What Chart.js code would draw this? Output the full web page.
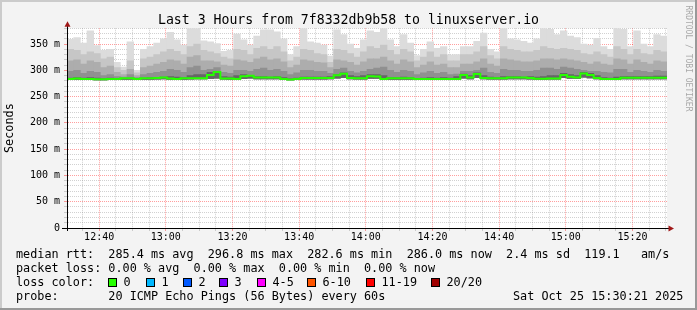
<!DOCTYPE html>
<html><head><meta charset="utf-8">
<script src="https://cdn.jsdelivr.net/npm/chart.js@4.4.0/dist/chart.umd.min.js"></script>
<style>html,body{margin:0;padding:0;background:#f3f3f3;}canvas{display:block;}</style>
</head><body>
<canvas id="c" width="697" height="310"></canvas>
<script>
// time axis: minutes after 12:00 (12:30:21 .. 15:30:21), one smoke column per 2 minutes
const startMin = 30.35;
const endMin = 210.35;
const stepMin = 2;

const medianRtt = [
 283.5,284.5,283.5,283.5,283,283,283.5,283.5,285,285,
 283.5,285,285,285.5,286.5,284.5,283.5,285,285,285,
 285,291,296.8,284.5,284.5,283.5,288.5,289.5,286.5,286.5,
 286.5,286.5,283.5,282.6,283.5,285.5,285.5,285.5,285.5,285.5,
 290.5,293.5,285.5,285,285,288.5,288,283.5,285,285,
 285,285,283.5,283.5,283.5,283.5,283.5,283.5,283.5,291,
 286.5,293,285.5,285,285,285,286.5,286.5,286.5,285.5,
 284,284,284.5,284.5,291,287.5,286.5,294,291,285.5,
 283.5,283.5,283.5,286,286,286,286,286,286,286];

const minRtt = [
 282,282.5,282,282,281.5,281.5,282,282,282.5,282.5,
 282,282.5,282.5,283,283.5,282.5,282,282.5,283,283.5,
 283.5,284,285,283,282.5,282,284,285,283.5,283.5,
 283.5,283.5,282,281.5,282,283,283,283,283,283.5,
 285,286,283.5,283,283,284.5,284.5,282,282.5,282.5,
 282.5,282.5,282,282,282,282,282,282,282.5,285,
 283.5,286,283.5,283,283,283,283.5,283.5,283.5,283,
 282.5,282.5,283,283,286,284.5,284,287,285.5,283.5,
 282,282,282,283.5,283.5,283.5,283.5,283.5,283.5,283.5];

const smokeMax = [
 359,362,352,375,347,338,340,315,306,354,
 300,340,345,352,360,372,358,348,380,380,
 356,354,351,336,338,369,358,348,365,377,
 377,373,360,330,345,380,354,352,348,327,
 377,368,350,342,358,375,372,380,358,345,
 368,352,328,340,354,342,345,329,330,345,
 345,355,371,340,335,380,360,358,355,352,
 360,380,378,368,375,365,362,350,348,361,
 345,340,380,378,345,375,350,345,368,365];

const smokeHigh = [
 340,338,330,335,332,322,325,305,300,318,
 295,322,325,330,335,340,336,330,345,350,
 338,335,332,325,322,340,338,330,342,345,
 340,345,335,318,325,340,338,332,330,315,
 340,338,332,325,335,345,342,348,338,330,
 340,335,318,325,335,325,330,318,318,330,
 330,335,345,328,322,345,340,338,335,335,
 338,345,342,340,342,340,338,332,330,335,
 330,325,345,340,330,340,332,330,338,335];

const smokeMid = [
 318,320,312,318,315,305,308,296,292,302,
 290,305,308,312,315,320,318,312,325,328,
 318,318,316,310,308,320,318,315,322,325,
 320,322,316,305,310,320,318,315,314,305,
 320,318,315,310,316,322,322,325,318,312,
 320,316,305,310,316,310,312,305,305,312,
 312,316,322,312,308,322,320,318,316,316,
 318,322,322,320,322,320,318,315,312,316,
 312,310,322,320,312,320,315,312,318,316];

const smokeLow = [
 298,300,294,298,296,290,292,288,287,292,
 286,292,294,296,298,302,300,296,305,308,
 300,302,305,296,294,300,300,298,302,304,
 300,302,298,292,295,300,300,298,298,294,
 302,304,298,295,298,302,304,306,300,296,
 300,298,292,295,298,294,296,292,293,298,
 298,300,304,296,294,302,300,300,298,298,
 300,304,304,302,306,304,302,300,298,298,
 296,295,302,302,296,300,298,296,300,298];

const smokeCore = [
 285,286,285,286,285,284,285,284,284,285,
 284,285,286,286,287,288,287,286,290,292,
 292,296,298,288,287,290,292,290,288,288,
 287,288,286,284,285,287,287,287,287,288,
 292,295,290,288,290,292,292,290,286,286,
 287,286,284,285,286,285,286,285,288,293,
 290,295,290,287,286,288,288,288,287,288,
 287,288,290,290,294,292,290,296,294,290,
 286,285,287,288,288,288,288,288,289,289];

const xMajorTicks = [40,60,80,100,120,140,160,180,200];
const xTickLabels = ['12:40','13:00','13:20','13:40','14:00','14:20','14:40','15:00','15:20'];
const yMajorTicks = [0,50,100,150,200,250,300,350];
const yTickLabels = ['0','50 m','100 m','150 m','200 m','250 m','300 m','350 m'];
const yMax = 380;

const lossLabels = ['0','1','2','3','4-5','6-10','11-19','20/20'];
const lossColors = ['#26ff00','#00b8ff','#0059ff','#7e00ff','#ff00ff','#ff5500','#ff0000','#a00000'];

const titleText = 'Last 3 Hours from 7f8332db9b58 to linuxserver.io';
const legendLines = [
 'median rtt:  285.4 ms avg  296.8 ms max  282.6 ms min  286.0 ms now  2.4 ms sd  119.1   am/s',
 'packet loss: 0.00 % avg  0.00 % max  0.00 % min  0.00 % now',
 'loss color:',
 'probe:       20 ICMP Echo Pings (56 Bytes) every 60s'];
const dateText = 'Sat Oct 25 15:30:21 2025';

// ---------- build ----------
const MONO = '"DejaVu Sans Mono", monospace';
const xGrid = []; for (let m = 35; m <= 210; m += 5) xGrid.push(m);
const yGrid = []; for (let v = 0; v <= yMax; v += 10) yGrid.push(v);
const MAJOR = 'rgba(255,0,0,0.38)';
const MINOR = 'rgba(140,140,140,0.4)';

function smoke(hi, color, order) {
  return {
    type: 'bar',
    data: hi.map((h, k) => ({x: startMin + stepMin * (k + 0.5), y: [minRtt[k], h]})),
    backgroundColor: color, borderWidth: 0, grouped: false,
    barPercentage: 1, categoryPercentage: 1, order
  };
}
const medianPts = medianRtt.map((v, k) => ({x: startMin + stepMin * k, y: v}));
medianPts.push({x: endMin, y: medianRtt[medianRtt.length - 1]});

const deco = {
  id: 'deco',
  beforeDraw(chart) {
    const {ctx, chartArea: a} = chart;
    ctx.save();
    ctx.fillStyle = '#f3f3f3'; ctx.fillRect(0, 0, 697, 310);
    ctx.fillStyle = '#cbcbcb'; ctx.fillRect(0, 0, 697, 2); ctx.fillRect(0, 0, 2, 310);
    ctx.fillStyle = '#999999'; ctx.fillRect(0, 308, 697, 2); ctx.fillRect(695, 0, 2, 310);
    ctx.fillStyle = '#ffffff'; ctx.fillRect(a.left, a.top, a.right - a.left, a.bottom - a.top);
    ctx.restore();
  },
  afterDraw(chart) {
    const {ctx, chartArea: a} = chart;
    ctx.save();
    ctx.strokeStyle = '#000'; ctx.lineWidth = 1;
    ctx.beginPath();
    ctx.moveTo(a.left + 0.5, a.bottom + 3); ctx.lineTo(a.left + 0.5, a.top - 3);
    ctx.moveTo(a.left - 5, a.bottom + 0.5); ctx.lineTo(a.right + 3, a.bottom + 0.5);
    ctx.stroke();
    ctx.fillStyle = '#a01818';
    ctx.beginPath();
    ctx.moveTo(a.left + 0.5, a.top - 7); ctx.lineTo(a.left - 2.5, a.top - 1.5); ctx.lineTo(a.left + 3.5, a.top - 1.5);
    ctx.closePath(); ctx.fill();
    ctx.beginPath();
    ctx.moveTo(a.right + 7, a.bottom + 0.5); ctx.lineTo(a.right + 1.5, a.bottom - 2.5); ctx.lineTo(a.right + 1.5, a.bottom + 3.5);
    ctx.closePath(); ctx.fill();
    ctx.fillStyle = '#000';
    ctx.font = '11.8px ' + MONO;
    ctx.textBaseline = 'middle'; ctx.textAlign = 'left';
    const ys = [254.5, 268.5, 282.5, 296.5];
    legendLines.forEach((t, i) => ctx.fillText(t, 16, ys[i]));
    ctx.fillText(dateText, 513, ys[3]);
    const bx = [108, 145.7, 182.7, 219.3, 256.7, 307.3, 365.7, 430.7];
    lossLabels.forEach((lab, i) => {
      const x = Math.round(bx[i]);
      ctx.fillStyle = lossColors[i];
      ctx.fillRect(x, 278, 8, 9);
      ctx.strokeStyle = '#000';
      ctx.strokeRect(x + 0.5, 278.5, 8, 8);
      ctx.fillStyle = '#000';
      ctx.fillText(lab, x + 15.5, ys[2]);
    });
    ctx.translate(688, 58.5);
    ctx.rotate(Math.PI / 2);
    ctx.font = '8px ' + MONO;
    ctx.textAlign = 'center';
    ctx.fillStyle = '#a8a8a8';
    ctx.fillText('RRDTOOL / TOBI OETIKER', 0, 0);
    ctx.restore();
  }
};

new Chart(document.getElementById('c'), {
  data: {
    datasets: [
      {type: 'line', data: medianPts, borderColor: '#26ff00', borderWidth: 2, pointRadius: 0,
       stepped: true, fill: false, order: 0},
      smoke(smokeCore, '#666666', 1),
      smoke(smokeLow, '#909090', 2),
      smoke(smokeMid, '#adadad', 3),
      smoke(smokeHigh, '#c6c6c6', 4),
      smoke(smokeMax, '#dcdcdc', 5)
    ]
  },
  options: {
    responsive: false, animation: false, devicePixelRatio: 1, events: [],
    layout: {padding: {left: 0, right: 0, top: 0, bottom: 62}},
    plugins: {
      legend: {display: false}, tooltip: {enabled: false},
      title: {display: true, text: titleText, fullSize: true, color: '#000',
        font: {family: MONO, size: 13.2, weight: 'normal', lineHeight: 1.2},
        padding: {top: 12.4, bottom: 0}}
    },
    scales: {
      x: {
        type: 'linear', position: 'bottom', min: startMin, max: endMin, z: 1, offset: false,
        afterBuildTicks: s => { s.ticks = xGrid.map(v => ({value: v})); },
        afterFit: s => { s.height = 20; },
        ticks: {autoSkip: false, maxRotation: 0, padding: 0, color: '#000',
          font: {family: MONO, size: 10},
          callback: v => { const i = xMajorTicks.indexOf(v); return i >= 0 ? xTickLabels[i] : ''; }},
        grid: {offset: false, color: c => (c.tick && xMajorTicks.includes(c.tick.value)) ? MAJOR : MINOR, tickLength: 3},
        border: {display: true, color: '#000', width: 1, dash: [1, 1]}
      },
      y: {
        type: 'linear', position: 'left', min: 0, max: yMax, z: 1,
        afterBuildTicks: s => { s.ticks = yGrid.map(v => ({value: v})); },
        afterFit: s => { s.width = 67; },
        ticks: {autoSkip: false, padding: 4, color: '#000', font: {family: MONO, size: 10},
          callback: v => { const i = yMajorTicks.indexOf(v); return i >= 0 ? yTickLabels[i] : ''; }},
        grid: {color: c => (c.tick && c.tick.value > 0 && yMajorTicks.includes(c.tick.value)) ? MAJOR : MINOR, tickLength: 3},
        border: {display: true, color: '#000', width: 1, dash: [1, 1]},
        title: {display: true, text: 'Seconds', color: '#000',
          font: {family: MONO, size: 11.8, lineHeight: 1.2}, padding: {top: 3, bottom: 0}}
      },
      yRight: {
        type: 'linear', position: 'right', min: 0, max: yMax, display: true,
        afterFit: s => { s.width = 30; },
        ticks: {display: false}, grid: {display: false, drawTicks: false}, border: {display: false}
      }
    }
  },
  plugins: [deco]
});
</script>
</body></html>
